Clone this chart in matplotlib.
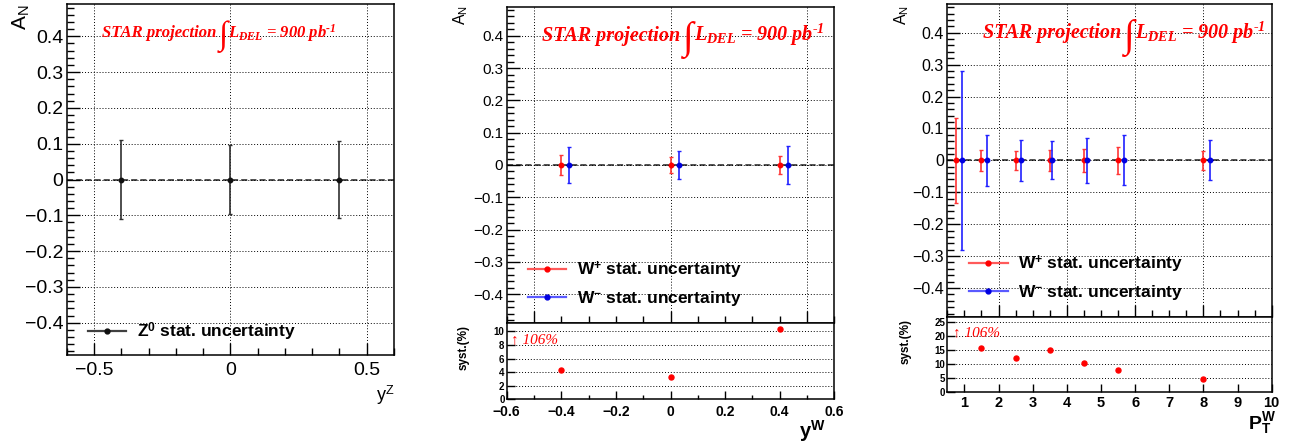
import matplotlib
matplotlib.use("Agg")
import matplotlib.pyplot as plt
import matplotlib.transforms as mtransforms
from matplotlib.lines import Line2D
from matplotlib.ticker import MultipleLocator, FixedLocator, FuncFormatter

# ---- data -----------------------------------------------------------------
z_y = [-0.4, 0.0, 0.4]
z_an = [0.0, 0.0, 0.0]
z_err = [0.110, 0.095, 0.107]

wy_plus_x = [-0.4, 0.0, 0.4]
wy_minus_x = [-0.37, 0.03, 0.43]
wy_plus_an = [0.0, 0.0, 0.0]
wy_minus_an = [0.0, 0.0, 0.0]
wy_plus_err = [0.030, 0.026, 0.029]
wy_minus_err = [0.055, 0.044, 0.058]
wy_syst = [4.3, 3.25, 10.4]

pt_plus_x = [0.75, 1.5, 2.5, 3.5, 4.5, 5.5, 8.0]
pt_minus_x = [0.92, 1.67, 2.67, 3.58, 4.58, 5.68, 8.18]
pt_plus_an = [0.0] * 7
pt_minus_an = [0.0] * 7
pt_plus_err = [0.133, 0.032, 0.029, 0.032, 0.035, 0.042, 0.029]
pt_minus_err = [0.280, 0.081, 0.064, 0.060, 0.070, 0.078, 0.063]
pt_syst_x = [1.5, 2.5, 3.5, 4.5, 5.5, 8.0]
pt_syst = [15.9, 12.2, 15.0, 10.5, 8.1, 4.7]

# ---- style ----------------------------------------------------------------
plt.rcParams.update({
    "font.family": ["Liberation Sans", "DejaVu Sans"],
    "mathtext.fontset": "custom",
    "mathtext.rm": "Liberation Serif:italic:bold",
    "mathtext.it": "Liberation Serif:italic:bold",
    "mathtext.bf": "Liberation Sans:bold",
    "mathtext.sf": "Liberation Sans",
    "axes.linewidth": 1.1,
})

RED_BAR = "#ff3535"
RED_PT = "#ff0000"
BLUE_BAR = "#2020ff"
BLUE_PT = "#0000e0"
GRID = dict(color="black", linestyle=(0, (1, 2)), linewidth=0.7)
SERIF = ["Liberation Serif", "DejaVu Serif"]

W, H = 1297, 443
fig = plt.figure(figsize=(W / 100, H / 100), dpi=100)


def rect(l, t, r, b):
    return [l / W, 1 - b / H, (r - l) / W, (b - t) / H]


def num(v, pos=None):
    s = f"{v:.10g}"
    if s == "-0":
        s = "0"
    return s.replace("-", "\u2212")


def style_axes(ax, xmaj, xmin, ymaj, ymin, xsize, ysize, xbold=False, ybold=False,
               xlabels=True, xpad=4, ypad=2.5, majlen=9, minlen=5):
    ax.xaxis.set_major_locator(xmaj)
    if xmin is not None:
        ax.xaxis.set_minor_locator(xmin)
    ax.yaxis.set_major_locator(ymaj)
    if ymin is not None:
        ax.yaxis.set_minor_locator(ymin)
    ax.xaxis.set_major_formatter(FuncFormatter(num))
    ax.yaxis.set_major_formatter(FuncFormatter(num))
    ax.tick_params(which="both", direction="in", top=False, right=False, width=1.0)
    ax.tick_params(which="major", length=majlen)
    ax.tick_params(which="minor", length=minlen)
    ax.tick_params(axis="x", pad=xpad, labelsize=xsize, labelbottom=xlabels)
    ax.tick_params(axis="y", pad=ypad, labelsize=ysize)
    for lab in ax.get_xticklabels():
        lab.set_fontweight("bold" if xbold else "normal")
    for lab in ax.get_yticklabels():
        lab.set_fontweight("bold" if ybold else "normal")


def star_title(ax, x, y, size, int_size, int_dy):
    tr = mtransforms.blended_transform_factory(ax.transAxes, ax.transData)
    t1 = ax.text(x, y, "STAR projection", transform=tr, color="red", fontsize=size,
                 family=SERIF, style="italic", weight="bold", va="baseline", ha="left",
                 zorder=6)
    t2 = ax.annotate("\u222b", xy=(1, y), xycoords=(t1, "data"),
                     xytext=(size * 0.15, int_dy), textcoords="offset points",
                     color="red", fontsize=int_size, family=SERIF, weight="bold",
                     va="baseline", ha="left", zorder=6)
    ax.annotate(r"$L_{DEL}$ = 900 pb$^{\text{-1}}$", xy=(1, y), xycoords=(t2, "data"),
                xytext=(0.5, 0), textcoords="offset points", color="red",
                fontsize=size, family=SERIF, style="italic", weight="bold",
                va="baseline", ha="left", zorder=6)


def zero_line(ax):
    ax.axhline(0, color="#202020", linewidth=1.1, linestyle=(0, (4, 2)), zorder=1.5)


def stat_bars(ax, x, y, err, bar, pt):
    ax.errorbar(x, y, yerr=err, fmt="o", color=pt, ecolor=bar, ms=3.2,
                elinewidth=1.2, capsize=1.5, capthick=1.0, zorder=4)


def legend(ax, handles, labels, x, y, spacing=0.5):
    ax.legend(handles, labels, loc="center left", bbox_to_anchor=(x, y),
              frameon=False, borderpad=0, borderaxespad=0, handlelength=2.2,
              handletextpad=0.6, labelspacing=spacing,
              prop={"family": "Liberation Sans", "weight": "bold", "size": 12.5})


def hline(color_line, color_pt):
    return Line2D([], [], color=color_line, lw=1.6, marker="o", ms=3.5,
                  mfc=color_pt, mec=color_pt)


# ---- panel 1 : Z0 vs rapidity ---------------------------------------------
ax1 = fig.add_axes(rect(66.7, 4, 394, 355))
ax1.set_xlim(-0.6, 0.6)
ax1.set_ylim(-0.49, 0.49)
ax1.grid(True, which="major", **GRID)
zero_line(ax1)
stat_bars(ax1, z_y, z_an, z_err, "#303030", "#101010")
style_axes(ax1, FixedLocator([-0.5, 0, 0.5]), MultipleLocator(0.1),
           MultipleLocator(0.1), MultipleLocator(0.02), 14, 14, xpad=5, ypad=2.5)
star_title(ax1, 0.107, 0.397, 12, 24, -5)
legend(ax1, [hline("#404040", "#101010")], [r"Z$^{\mathbf{0}}$ stat. uncertainty"],
       0.065, 0.0655)
fig.text(10 / W, 1 - 5 / H, r"A$_{\mathsf{N}}$", rotation=90, ha="left", va="top",
         fontsize=15)
fig.text(394 / W, 1 - 384 / H, r"y$^{\mathsf{Z}}$", ha="right", va="top", fontsize=13)

# ---- panel 2 : W vs rapidity ----------------------------------------------
ax2 = fig.add_axes(rect(506.7, 6.7, 834.3, 323.3))
ax2.set_xlim(-0.6, 0.6)
ax2.set_ylim(-0.49, 0.49)
ax2.grid(True, which="major", **GRID)
zero_line(ax2)
stat_bars(ax2, wy_plus_x, wy_plus_an, wy_plus_err, RED_BAR, RED_PT)
stat_bars(ax2, wy_minus_x, wy_minus_an, wy_minus_err, BLUE_BAR, BLUE_PT)
style_axes(ax2, FixedLocator([-0.5, 0, 0.5]), MultipleLocator(0.1),
           MultipleLocator(0.1), MultipleLocator(0.02), 11, 11, xlabels=False)
star_title(ax2, 0.107, 0.384, 14.5, 28, -6)
legend(ax2, [hline("#ff5a5a", RED_PT), hline("#5a5aff", BLUE_PT)],
       [r"W$^{\mathbf{+}}$ stat. uncertainty", r"W$^{\mathbf{-}}$ stat. uncertainty"],
       0.065, 0.125)

ax2s = fig.add_axes(rect(506.7, 323.3, 834.3, 399.3))
ax2s.set_xlim(-0.6, 0.6)
ax2s.set_ylim(0, 11.2)
ax2s.yaxis.grid(True, which="major", **GRID)
ax2s.plot(wy_plus_x, wy_syst, "o", color=RED_PT, ms=3.6, zorder=4)
style_axes(ax2s, MultipleLocator(0.2), MultipleLocator(0.1), MultipleLocator(2), None,
           10, 7, xbold=True, ybold=True, xpad=4, ypad=1.5, majlen=6, minlen=3)
tr2 = mtransforms.blended_transform_factory(ax2s.transAxes, ax2s.transData)
ax2s.text(0.012, 8.25, "\u2191 106%", transform=tr2, color="red", fontsize=11,
          family=SERIF, style="italic", va="baseline", ha="left")
fig.text(452 / W, 1 - 5 / H, r"A$_{\mathsf{N}}$", rotation=90, ha="left", va="top",
         fontsize=11.5)
fig.text(458 / W, 1 - 348 / H, "syst.(%)", rotation=90, ha="left", va="center",
         fontsize=8.5, weight="bold")
fig.text(826 / W, 1 - 419 / H, r"y$^{\mathbf{W}}$", ha="right", va="top",
         fontsize=14.5, weight="bold")

# ---- panel 3 : W vs transverse momentum -----------------------------------
ax3 = fig.add_axes(rect(947.3, 4, 1271.7, 316.7))
ax3.set_xlim(0.5, 10)
ax3.set_ylim(-0.49, 0.49)
ax3.grid(True, which="major", **GRID)
zero_line(ax3)
stat_bars(ax3, pt_plus_x, pt_plus_an, pt_plus_err, RED_BAR, RED_PT)
stat_bars(ax3, pt_minus_x, pt_minus_an, pt_minus_err, BLUE_BAR, BLUE_PT)
style_axes(ax3, MultipleLocator(2), MultipleLocator(0.5),
           MultipleLocator(0.1), MultipleLocator(0.02), 11.5, 11.5, xlabels=False)
star_title(ax3, 0.109, 0.382, 14.5, 28, -6)
legend(ax3, [hline("#ff5a5a", RED_PT), hline("#5a5aff", BLUE_PT)],
       [r"W$^{\mathbf{+}}$ stat. uncertainty", r"W$^{\mathbf{-}}$ stat. uncertainty"],
       0.068, 0.1247)

ax3s = fig.add_axes(rect(947.3, 316.7, 1271.7, 392.3))
ax3s.set_xlim(0.5, 10)
ax3s.set_ylim(0, 27)
ax3s.yaxis.grid(True, which="major", **GRID)
ax3s.plot(pt_syst_x, pt_syst, "o", color=RED_PT, ms=3.6, zorder=4)
style_axes(ax3s, MultipleLocator(1), None, MultipleLocator(5), None,
           10.5, 7, xbold=True, ybold=True, xpad=3, ypad=1.5, majlen=6, minlen=3)
tr3 = mtransforms.blended_transform_factory(ax3s.transAxes, ax3s.transData)
ax3s.text(0.017, 20.1, "\u2191 106%", transform=tr3, color="red", fontsize=11,
          family=SERIF, style="italic", va="baseline", ha="left")
fig.text(893 / W, 1 - 5 / H, r"A$_{\mathsf{N}}$", rotation=90, ha="left", va="top",
         fontsize=11.5)
fig.text(900 / W, 1 - 341 / H, "syst.(%)", rotation=90, ha="left", va="center",
         fontsize=8.5, weight="bold")
fig.text(1276 / W, 1 - 411 / H, r"P$_{\mathbf{T}}^{\mathbf{W}}$", ha="right", va="top",
         fontsize=14, weight="bold")

fig.savefig("out.png", dpi=100)
